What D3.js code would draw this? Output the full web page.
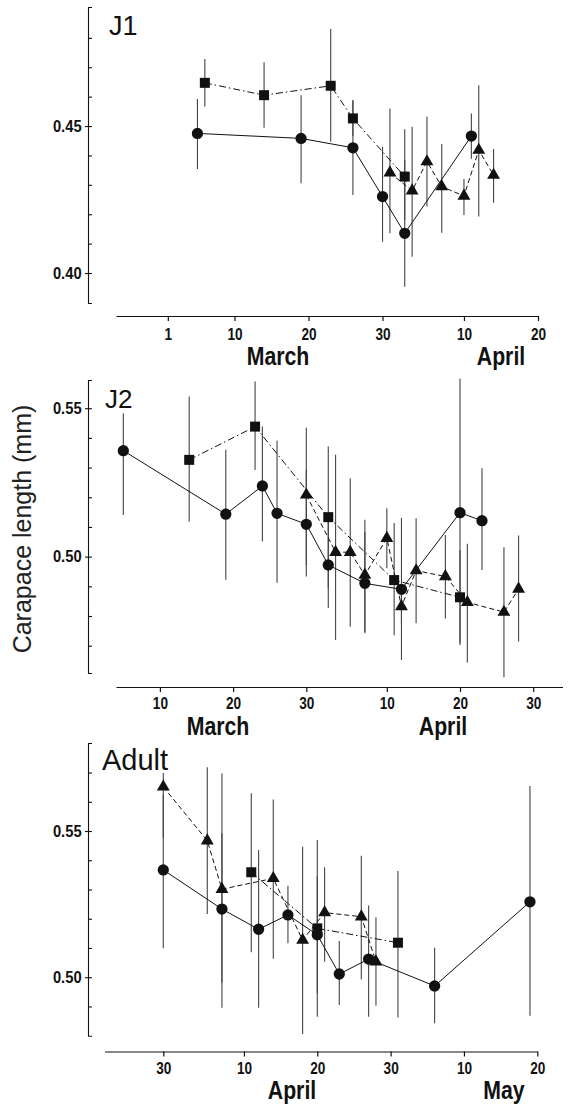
<!DOCTYPE html>
<html>
<head>
<meta charset="utf-8">
<script src="https://cdn.jsdelivr.net/npm/d3@7"></script>
<style>
body{margin:0;background:#fff}
svg{display:block}
</style>
</head>
<body>
<div id="chart"></div>
<script>
// rows: [date (mm-dd), mean, low, high]
var j1Circles = [
    ["03-05", 0.4475, 0.4354, 0.4592],
    ["03-19", 0.4458, 0.4305, 0.4605],
    ["03-26", 0.4426, 0.4265, 0.4588],
    ["03-30", 0.4260, 0.4106, 0.4430],
    ["04-02", 0.4135, 0.3953, 0.4384],
    ["04-11", 0.4466, 0.4389, 0.4543]
];
var j1Squares = [
    ["03-06", 0.4647, 0.4566, 0.4728],
    ["03-14", 0.4605, 0.4494, 0.4717],
    ["03-23", 0.4637, 0.4447, 0.4830],
    ["03-26", 0.4526, 0.4466, 0.4588],
    ["04-02", 0.4328, 0.4180, 0.4489]
];
var j1Triangles = [
    ["03-31", 0.4341, 0.4135, 0.4560],
    ["04-03", 0.4280, 0.4055, 0.4498],
    ["04-05", 0.4379, 0.4226, 0.4532],
    ["04-07", 0.4294, 0.4137, 0.4439],
    ["04-10", 0.4262, 0.4197, 0.4320],
    ["04-12", 0.4418, 0.4192, 0.4639],
    ["04-14", 0.4333, 0.4239, 0.4422]
];

var j2Circles = [
    ["03-05", 0.5357, 0.5140, 0.5483],
    ["03-19", 0.5143, 0.4922, 0.5360],
    ["03-24", 0.5238, 0.5051, 0.5438],
    ["03-26", 0.5146, 0.4912, 0.5390],
    ["03-30", 0.5109, 0.4933, 0.5292],
    ["04-02", 0.4972, 0.4827, 0.5124],
    ["04-07", 0.4910, 0.4742, 0.5084],
    ["04-12", 0.4890, 0.4652, 0.5130],
    ["04-20", 0.5148, 0.4709, 0.5600],
    ["04-23", 0.5121, 0.4955, 0.5298]
];
var j2Squares = [
    ["03-14", 0.5326, 0.5118, 0.5539],
    ["03-23", 0.5438, 0.5292, 0.5590],
    ["04-02", 0.5133, 0.4894, 0.5371],
    ["04-11", 0.4921, 0.4735, 0.5113],
    ["04-20", 0.4863, 0.4702, 0.5022]
];
var j2Triangles = [
    ["03-30", 0.5208, 0.4972, 0.5434],
    ["04-03", 0.5015, 0.4719, 0.5343],
    ["04-05", 0.5015, 0.4764, 0.5264],
    ["04-07", 0.4938, 0.4747, 0.5124],
    ["04-10", 0.5062, 0.4961, 0.5163],
    ["04-12", 0.4832, 0.4777, 0.4888],
    ["04-14", 0.4953, 0.4776, 0.5129],
    ["04-18", 0.4933, 0.4792, 0.5073],
    ["04-21", 0.4846, 0.4643, 0.5043],
    ["04-26", 0.4813, 0.4594, 0.5032],
    ["04-28", 0.4891, 0.4714, 0.5071]
];

var adCircles = [
    ["03-30", 0.5367, 0.5099, 0.5624],
    ["04-07", 0.5233, 0.4982, 0.5492],
    ["04-12", 0.5164, 0.4896, 0.5435],
    ["04-16", 0.5213, 0.5116, 0.5313],
    ["04-20", 0.5145, 0.4945, 0.5346],
    ["04-23", 0.5011, 0.4905, 0.5124],
    ["04-27", 0.5062, 0.4865, 0.5245],
    ["05-06", 0.4970, 0.4843, 0.5101],
    ["05-19", 0.5258, 0.4868, 0.5654]
];
var adSquares = [
    ["04-11", 0.5359, 0.5085, 0.5629],
    ["04-20", 0.5167, 0.4865, 0.5469],
    ["05-01", 0.5118, 0.4862, 0.5363]
];
var adTriangles = [
    ["03-30", 0.5651, 0.5476, 0.5698],
    ["04-05", 0.5467, 0.5216, 0.5718],
    ["04-07", 0.5301, 0.4896, 0.5697],
    ["04-14", 0.5338, 0.5063, 0.5608],
    ["04-18", 0.5127, 0.4806, 0.5446],
    ["04-21", 0.5221, 0.5053, 0.5376],
    ["04-26", 0.5207, 0.4993, 0.5415],
    ["04-28", 0.5053, 0.4902, 0.5205]
];

var j1Ticks = ["03-01", "03-10", "03-20", "03-30", "04-10", "04-20"];
var j2Ticks = ["03-10", "03-20", "03-30", "04-10", "04-20", "04-30"];
var adTicks = ["03-30", "04-10", "04-20", "04-30", "05-10", "05-20"];
var j1YTicks = [0.40, 0.45];
var j2YTicks = [0.50, 0.55];
var adYTicks = [0.50, 0.55];
var j1Months = ["March", "April"];
var j2Months = ["March", "April"];
var adMonths = ["April", "May"];

var parseDay = d3.timeParse('%Y-%m-%d');
function day(s){ return parseDay('2001-' + s); }

var W = 570, H = 1104;
var svg = d3.select('#chart').append('svg')
    .attr('width', W)
    .attr('height', H);
svg.append('rect').attr('width', W).attr('height', H).attr('fill', '#fff');

var tickFont = '"Liberation Sans", Arial, sans-serif';

function panel(cfg){
    var g = svg.append('g');
    var x = d3.scaleTime().domain([day(cfg.start), day(cfg.end)]).range(cfg.xRange);
    var y = d3.scaleLinear().domain(cfg.yDomain).range(cfg.yRange);

    // x axis
    var xa = g.append('g')
        .attr('transform', 'translate(0,' + cfg.xAxisY + ')')
        .call(d3.axisBottom(x)
            .tickValues(cfg.ticks.map(day))
            .tickFormat(d3.timeFormat('%-d'))
            .tickSize(5)
            .tickSizeOuter(0)
            .tickPadding(cfg.tickPad));
    xa.selectAll('path, line').attr('stroke', '#111').attr('stroke-width', 1.2);
    xa.selectAll('text')
        .attr('font-family', tickFont)
        .attr('font-weight', 'bold')
        .attr('font-size', 17)
        .attr('fill', '#111')
        .attr('transform', 'scale(0.8,1)');

    // month labels
    cfg.months.forEach(function(m, i){
        g.append('text')
            .attr('transform', 'translate(' + cfg.monthX[i] + ',' + cfg.monthY + ') scale(0.85,1)')
            .attr('text-anchor', 'middle')
            .attr('font-family', tickFont)
            .attr('font-weight', 'bold')
            .attr('font-size', 25)
            .attr('fill', '#111')
            .text(m);
    });

    // y axis: bracket with minor ticks, major labels
    var minor = d3.range(cfg.minor[0], cfg.minor[1] + 0.0001, 0.01).map(function(v){ return +v.toFixed(2); });
    var ya = g.append('g')
        .attr('transform', 'translate(' + cfg.yAxisX + ',0)')
        .call(d3.axisRight(y).tickValues(minor).tickSize(4).tickSizeOuter(4).tickFormat(''));
    ya.selectAll('path, line').attr('stroke', '#111').attr('stroke-width', 1.1);
    var yl = g.append('g')
        .attr('transform', 'translate(' + cfg.yAxisX + ',0)')
        .call(d3.axisLeft(y).tickValues(cfg.yTicks).tickSize(3).tickPadding(4).tickFormat(d3.format('.2f')));
    yl.select('.domain').remove();
    yl.selectAll('line').attr('stroke', '#111').attr('stroke-width', 1.1);
    yl.selectAll('text')
        .attr('font-family', tickFont)
        .attr('font-weight', 'bold')
        .attr('font-size', 16)
        .attr('fill', '#111')
        .attr('transform', 'scale(0.92,1)');

    // panel label
    g.append('text')
        .attr('x', cfg.labelX)
        .attr('y', cfg.labelY)
        .attr('font-family', tickFont)
        .attr('font-size', cfg.labelSize)
        .attr('fill', '#111')
        .text(cfg.label);

    var series = [
        {rows: cfg.circles, type: d3.symbolCircle, size: 100, dash: null},
        {rows: cfg.squares, type: d3.symbolSquare, size: 100, dash: '7,3,1.5,3'},
        {rows: cfg.triangles, type: d3.symbolTriangle, size: 72, dash: '5,3'}
    ];

    // error bars
    series.forEach(function(s){
        g.selectAll(null).data(s.rows).enter().append('line')
            .attr('x1', function(d){ return x(day(d[0])); })
            .attr('x2', function(d){ return x(day(d[0])); })
            .attr('y1', function(d){ return y(d[2]); })
            .attr('y2', function(d){ return y(d[3]); })
            .attr('stroke', '#444')
            .attr('stroke-width', 1.1);
    });

    // connecting lines
    var line = d3.line()
        .x(function(d){ return x(day(d[0])); })
        .y(function(d){ return y(d[1]); });
    series.forEach(function(s){
        g.append('path')
            .datum(s.rows)
            .attr('d', line)
            .attr('fill', 'none')
            .attr('stroke', '#111')
            .attr('stroke-width', 1)
            .attr('stroke-dasharray', s.dash);
    });

    // markers
    series.forEach(function(s){
        g.selectAll(null).data(s.rows).enter().append('path')
            .attr('d', d3.symbol().type(s.type).size(s.size))
            .attr('transform', function(d){
                return 'translate(' + x(day(d[0])) + ',' + y(d[1]) + ')';
            })
            .attr('fill', '#111');
    });
}

panel({
    label: 'J1', labelX: 109, labelY: 35, labelSize: 27,
    circles: j1Circles, squares: j1Squares, triangles: j1Triangles,
    start: '02-22', end: '04-20', xRange: [116, 538], xAxisY: 316, tickPad: 7,
    ticks: j1Ticks, months: j1Months, monthX: [278, 501], monthY: 365,
    yDomain: [0.3898, 0.4905], yRange: [303, 7], yAxisX: 88,
    yTicks: j1YTicks, minor: [0.40, 0.48]
});

panel({
    label: 'J2', labelX: 105, labelY: 408, labelSize: 26,
    circles: j2Circles, squares: j2Squares, triangles: j2Triangles,
    start: '03-04', end: '05-04', xRange: [116, 562.5], xAxisY: 687, tickPad: 5,
    ticks: j2Ticks, months: j2Months, monthX: [218, 443], monthY: 735,
    yDomain: [0.4608, 0.5595], yRange: [673, 380], yAxisX: 88,
    yTicks: j2YTicks, minor: [0.47, 0.55]
});

panel({
    label: 'Adult', labelX: 102, labelY: 770, labelSize: 29,
    circles: adCircles, squares: adSquares, triangles: adTriangles,
    start: '03-22', end: '05-20', xRange: [104.6, 537.3], xAxisY: 1051.5, tickPad: 5,
    ticks: adTicks, months: adMonths, monthX: [292, 504], monthY: 1099,
    yDomain: [0.4800, 0.5801], yRange: [1035.7, 743], yAxisX: 88,
    yTicks: adYTicks, minor: [0.49, 0.57]
});

// shared y title
svg.append('text')
    .attr('transform', 'translate(31,529) rotate(-90)')
    .attr('text-anchor', 'middle')
    .attr('font-family', tickFont)
    .attr('font-size', 25)
    .attr('fill', '#222')
    .text('Carapace length (mm)');
</script>
</body>
</html>
